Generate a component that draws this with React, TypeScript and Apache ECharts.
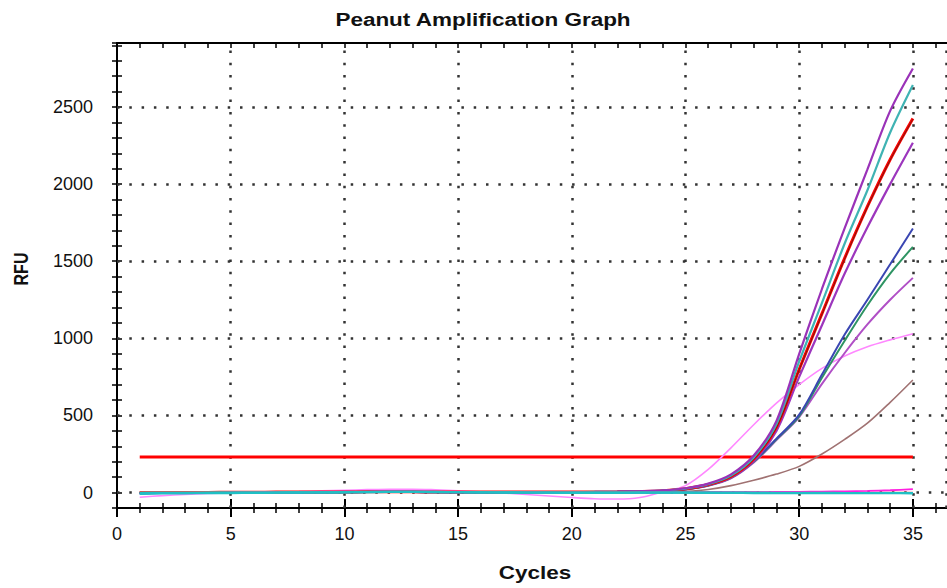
import React, { useEffect, useRef } from "react";
import * as echarts from "echarts";

const cycles = [1, 2, 3, 4, 5, 6, 7, 8, 9, 10, 11, 12, 13, 14, 15, 16, 17, 18, 19, 20, 21, 22, 23, 24, 25, 26, 27, 28, 29, 30, 31, 32, 33, 34, 35];

const xTickLabels = [0, 5, 10, 15, 20, 25, 30, 35];
const yTickLabels = [0, 500, 1000, 1500, 2000, 2500];
const thresholdCycles = [1, 35];
const thresholdRFU = 230;

// amplifying wells
const purpleTop = [-3, -2, -1, 0, 1, 2, 2, 3, 3, 4, 5, 6, 5, 4, 3, 3, 2, 2, 2, 3, 4, 6, 9, 14, 28, 58, 118, 240, 465, 900, 1320, 1715, 2095, 2475, 2750];
const tealTop = [-2, -2, -1, 0, 0, 1, 2, 2, 3, 3, 4, 5, 5, 4, 3, 2, 2, 2, 2, 3, 4, 5, 8, 13, 26, 54, 110, 228, 445, 850, 1230, 1615, 1960, 2335, 2643];
const redMain = [0, 0, 1, 1, 2, 2, 3, 3, 4, 4, 5, 5, 5, 4, 4, 3, 3, 3, 3, 3, 4, 5, 7, 12, 25, 52, 105, 218, 425, 800, 1160, 1520, 1855, 2160, 2426];
const redDark = [1, 1, 1, 2, 2, 3, 3, 3, 4, 4, 5, 5, 5, 4, 4, 3, 3, 3, 3, 3, 4, 5, 7, 12, 24, 51, 104, 216, 422, 796, 1156, 1516, 1851, 2156, 2422];
const purpleSecond = [-1, -1, 0, 0, 1, 1, 2, 2, 3, 3, 4, 4, 4, 3, 3, 2, 2, 2, 2, 2, 3, 4, 6, 11, 24, 48, 98, 205, 400, 750, 1085, 1420, 1720, 2000, 2268];
const blueMid = [-4, -3, -2, -1, 0, 0, 1, 1, 2, 2, 3, 3, 3, 2, 2, 1, 1, 1, 1, 2, 3, 4, 6, 10, 22, 48, 100, 205, 350, 505, 765, 1025, 1250, 1480, 1712];
const greenMid = [-2, -2, -1, -1, 0, 0, 1, 1, 2, 3, 3, 4, 4, 3, 2, 2, 1, 1, 1, 2, 3, 4, 6, 10, 21, 46, 96, 200, 345, 495, 745, 985, 1215, 1420, 1593];
const violetMid = [-3, -2, -2, -1, 0, 1, 1, 2, 2, 3, 4, 4, 4, 3, 3, 2, 2, 1, 1, 2, 2, 3, 5, 10, 20, 44, 92, 195, 340, 490, 705, 905, 1090, 1250, 1392];
const pinkEarly = [-30, -20, -12, -6, -2, 1, 4, 7, 11, 15, 19, 22, 22, 18, 12, 5, -3, -12, -22, -32, -40, -42, -32, 5, 45, 150, 290, 440, 580, 700, 805, 885, 945, 990, 1030];
const brownLate = [-2, -1, -1, 0, 0, 1, 1, 2, 2, 2, 3, 3, 3, 2, 2, 2, 1, 1, 1, 1, 1, 2, 2, 3, 8, 20, 45, 80, 120, 170, 250, 345, 450, 585, 730];

// flat (negative) wells
const cyanFlatA = [-8, -6, -5, -4, -3, -2, -1, 0, 1, 2, 3, 4, 4, 3, 2, 1, 0, -1, -1, -2, -2, -2, -1, -1, -1, -2, -2, -3, -3, -3, -4, -4, -4, -4, -5];
const cyanFlatB = [-4, -3, -2, -2, -1, -1, 0, 0, 1, 1, 2, 3, 3, 2, 2, 1, 1, 0, 0, -1, -1, -1, 0, 0, 0, -1, -1, -1, -2, -2, -2, -2, -3, -3, -3];
const tealFlat = [-2, -1, -1, 0, 0, 1, 1, 2, 2, 3, 4, 5, 5, 4, 3, 2, 2, 1, 1, 0, 0, 0, 1, 1, 0, 0, -1, -1, -1, -1, -1, -2, -2, -2, -2];
const magentaFlat = [-6, -4, -3, -2, -1, 0, 1, 2, 3, 4, 5, 6, 6, 5, 4, 3, 2, 1, 0, -1, -1, 0, 0, 1, 1, 2, 2, 3, 4, 5, 6, 8, 11, 15, 22];
const redFlat = [3, 3, 4, 4, 4, 5, 5, 5, 6, 6, 7, 7, 6, 6, 5, 5, 5, 4, 4, 4, 3, 3, 3, 3, 3, 2, 2, 2, 2, 2, 1, 1, 1, 1, 1];
const greenFlat = [0, 0, 1, 1, 1, 2, 2, 2, 3, 3, 3, 4, 4, 3, 3, 2, 2, 2, 1, 1, 1, 1, 1, 0, 0, 0, 0, 0, -1, -1, -1, -1, -1, -1, -1];

const FONT = "'Liberation Sans', Arial, sans-serif";

export default function App() {
  const ref = useRef<HTMLDivElement>(null);

  useEffect(() => {
    if (!ref.current) return;
    const chart = echarts.init(ref.current, undefined, { renderer: "svg" });
    const pairs = (vals: number[]) => cycles.map((c, i) => [c, vals[i]]);

    const curve = (name: string, vals: number[], color: string, width: number) => ({
      name,
      type: "line",
      data: pairs(vals),
      showSymbol: false,
      symbol: "none",
      smooth: 0.3,
      z: 3,
      lineStyle: { color, width },
    });

    const gridMarks = [
      ...xTickLabels.filter((v) => v > 0).map((v) => ({ xAxis: v })),
      { xAxis: 36.45 },
      ...yTickLabels.map((v) => ({ yAxis: v })),
    ];

    const xMin = 0;
    const xMax = 40;
    const yMin = -100;
    const yMax = 2915;

    chart.setOption({
      animation: false,
      backgroundColor: "#ffffff",
      grid: {
        left: 117,
        top: 43,
        width: 909.6,
        height: 465,
        containLabel: false,
        outerBoundsMode: "none",
      },
      graphic: [
        {
          type: "text",
          x: 483,
          y: 20,
          scaleX: 1.25,
          style: {
            text: "Peanut Amplification Graph",
            font: `bold 18px ${FONT}`,
            fill: "#111",
            textAlign: "center",
            textVerticalAlign: "middle",
          },
        },
        {
          type: "text",
          x: 21,
          y: 269,
          rotation: Math.PI / 2,
          scaleY: 1.25,
          style: {
            text: "RFU",
            font: `bold 16px ${FONT}`,
            fill: "#111",
            textAlign: "center",
            textVerticalAlign: "middle",
          },
        },
        {
          type: "text",
          x: 535,
          y: 573,
          scaleX: 1.25,
          style: {
            text: "Cycles",
            font: `bold 18px ${FONT}`,
            fill: "#111",
            textAlign: "center",
            textVerticalAlign: "middle",
          },
        },
      ],
      xAxis: [
        {
          type: "value",
          position: "bottom",
          min: xMin,
          max: xMax,
          interval: 5,
          axisLine: { show: true, onZero: false, lineStyle: { color: "#000", width: 2 } },
          axisTick: { show: true, inside: false, length: 9, lineStyle: { color: "#000", width: 2 } },
          minorTick: { show: true, splitNumber: 5, length: 5, lineStyle: { color: "#000", width: 1.5 } },
          axisLabel: {
            show: true,
            margin: 17,
            fontSize: 18,
            fontFamily: FONT,
            color: "#111",
            customValues: xTickLabels,
            formatter: (v: number) => String(v),
          },
          splitLine: { show: false },
        },
        {
          type: "value",
          position: "bottom",
          min: xMin,
          max: xMax,
          interval: 5,
          axisLine: { show: false, onZero: false },
          axisTick: { show: true, inside: true, length: 9, lineStyle: { color: "#000", width: 2 } },
          minorTick: { show: true, splitNumber: 5, length: 5, lineStyle: { color: "#000", width: 1.5 } },
          axisLabel: { show: false },
          splitLine: { show: false },
        },
        {
          type: "value",
          position: "top",
          min: xMin,
          max: xMax,
          interval: 5,
          axisLine: { show: true, onZero: false, lineStyle: { color: "#000", width: 2 } },
          axisTick: { show: true, inside: true, length: 5, lineStyle: { color: "#000", width: 1.5 } },
          minorTick: { show: true, splitNumber: 5, length: 5, lineStyle: { color: "#000", width: 1.5 } },
          axisLabel: { show: false },
          splitLine: { show: false },
        },
      ],
      yAxis: [
        {
          type: "value",
          position: "left",
          min: yMin,
          max: yMax,
          interval: 100,
          axisLine: { show: true, onZero: false, lineStyle: { color: "#000", width: 2 } },
          axisTick: { show: true, inside: false, length: 5, lineStyle: { color: "#000", width: 1.5 } },
          axisLabel: {
            show: true,
            margin: 24,
            fontSize: 18,
            fontFamily: FONT,
            color: "#111",
            customValues: yTickLabels,
            formatter: (v: number) => String(v),
          },
          splitLine: { show: false },
        },
        {
          type: "value",
          position: "left",
          min: yMin,
          max: yMax,
          interval: 100,
          axisLine: { show: false, onZero: false },
          axisTick: { show: true, inside: true, length: 5, lineStyle: { color: "#000", width: 1.5 } },
          axisLabel: { show: false },
          splitLine: { show: false },
        },
      ],
      series: [
        {
          name: "grid",
          type: "line",
          data: [[0, 0]],
          symbol: "none",
          lineStyle: { width: 0, opacity: 0 },
          z: 1,
          markLine: {
            silent: true,
            symbol: "none",
            z: 1,
            label: { show: false },
            lineStyle: { color: "#333", width: 2.5, type: [2.5, 9.8] },
            data: gridMarks,
          },
        },
        {
          name: "Threshold",
          type: "line",
          data: thresholdCycles.map((c) => [c, thresholdRFU]),
          symbol: "none",
          z: 2,
          lineStyle: { color: "#ff0000", width: 3 },
        },
        curve("brown", brownLate, "#a07272", 1.6),
        curve("pink", pinkEarly, "#ff88ff", 1.6),
        curve("violet", violetMid, "#b04fc6", 2),
        curve("green", greenMid, "#2e9463", 2),
        curve("blue", blueMid, "#3a46b2", 2),
        curve("purple2", purpleSecond, "#9c36bd", 2.2),
        curve("red", redMain, "#ff0000", 3),
        curve("redDark", redDark, "#7a1a10", 1),
        curve("teal", tealTop, "#3fb3b3", 2.2),
        curve("purple1", purpleTop, "#9a32b8", 2.2),
        curve("greenFlat", greenFlat, "#55a055", 1.5),
        curve("redFlat", redFlat, "#e06060", 1.5),
        curve("magentaFlat", magentaFlat, "#ff20e0", 1.8),
        curve("tealFlat", tealFlat, "#3cb3a8", 2),
        curve("cyanFlatB", cyanFlatB, "#22bcc8", 2),
        curve("cyanFlatA", cyanFlatA, "#1fc0c4", 2.2),
      ],
    });

    return () => chart.dispose();
  }, []);

  return (
    <div
      ref={ref}
      style={{ position: "fixed", left: 0, top: 0, width: 947, height: 588, background: "#fff" }}
    />
  );
}
